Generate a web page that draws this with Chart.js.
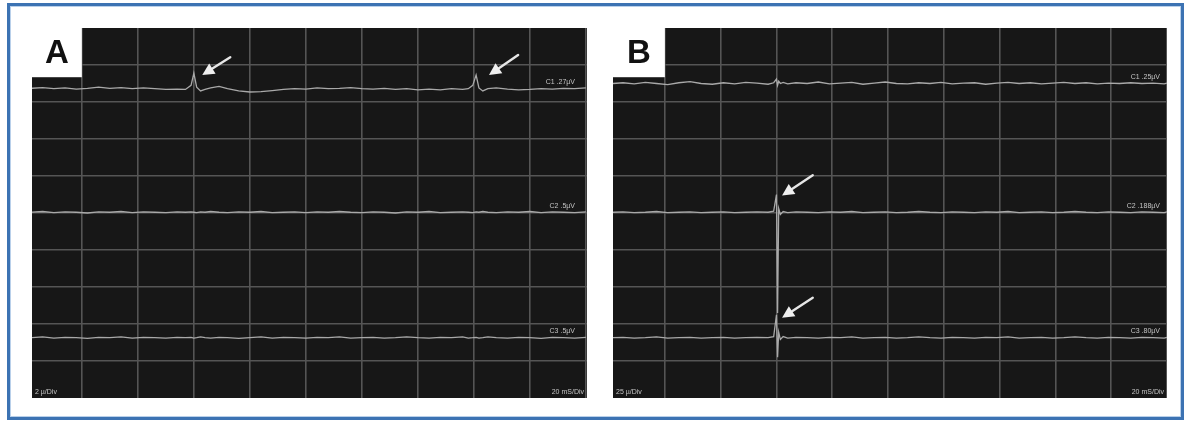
<!DOCTYPE html>
<html>
<head>
<meta charset="utf-8">
<script src="https://cdn.jsdelivr.net/npm/chart.js@4.4.1/dist/chart.umd.min.js"></script>
<style>
html, body { margin: 0; padding: 0; background: #fff; }
body { width: 1187px; height: 421px; position: relative; overflow: hidden; }
#frame {
    position: absolute; left: 7px; top: 3px; width: 1177px; height: 417px;
    box-sizing: border-box; border: 3px solid #3c73b3;
    box-shadow: inset 0 0 0 1px #b9d0ea;
}
canvas { position: absolute; top: 28px; }
#scopeA { left: 32px; }
#scopeB { left: 613px; }
</style>
</head>
<body>
<div id="frame"></div>
<canvas id="scopeA" width="555" height="370"></canvas>
<canvas id="scopeB" width="554" height="370"></canvas>
<script>
(function() {
    'use strict';

    // ── Data (x in time divisions, y in vertical divisions, 0 = bottom) ──
    var timeA = [-0.9, -0.7, -0.5, -0.3, -0.1, 0.1, 0.3, 0.5, 0.7, 0.9, 1.1, 1.3, 1.5, 1.7,
        1.85, 1.95, 2.0, 2.05, 2.12, 2.2, 2.3, 2.45, 2.6,
        2.8, 3.0, 3.2, 3.4, 3.6, 3.8, 4.0, 4.2, 4.4, 4.6, 4.8, 5.0, 5.2, 5.4, 5.6, 5.8, 6.0, 6.2, 6.4, 6.6, 6.8,
        6.9, 6.98, 7.04, 7.09, 7.16, 7.25, 7.4,
        7.6, 7.8, 8.0, 8.2, 8.4, 8.6, 8.8, 9.0];
    var traceA1 = [8.37, 8.39, 8.36, 8.38, 8.35, 8.37, 8.40, 8.37, 8.39, 8.36, 8.38, 8.36, 8.34, 8.35,
        8.34, 8.45, 8.78, 8.40, 8.30, 8.34, 8.38, 8.42, 8.36,
        8.30, 8.27, 8.28, 8.31, 8.34, 8.36, 8.35, 8.38, 8.36, 8.37, 8.39, 8.36, 8.35, 8.37, 8.34, 8.36, 8.33, 8.35, 8.33, 8.36, 8.34,
        8.36, 8.45, 8.73, 8.38, 8.30, 8.36, 8.38,
        8.35, 8.33, 8.34, 8.36, 8.35, 8.37, 8.36, 8.38];
    var traceA2 = [5.02, 5.04, 5.01, 5.03, 5.02, 5.00, 5.03, 5.02, 5.04, 5.01,
        5.03, 5.02, 5.01, 5.03, 5.02, 5.03, 5.02, 5.01, 5.03, 5.02,
        5.04, 5.02, 5.01, 5.03, 5.02, 5.04, 5.01, 5.02, 5.03, 5.01,
        5.03, 5.02, 5.04, 5.02, 5.01, 5.03, 5.02, 5.00, 5.03, 5.02,
        5.04, 5.01, 5.02, 5.03, 5.02, 5.01, 5.03, 5.02, 5.04, 5.02,
        5.01, 5.03, 5.02, 5.04, 5.01, 5.03, 5.02, 5.01, 5.03];
    var traceA3 = [1.63, 1.65, 1.62, 1.64, 1.63, 1.61, 1.64, 1.63, 1.65, 1.62,
        1.64, 1.63, 1.62, 1.64, 1.63, 1.64, 1.62, 1.63, 1.65, 1.63,
        1.62, 1.64, 1.63, 1.61, 1.63, 1.65, 1.62, 1.64, 1.63, 1.62,
        1.64, 1.63, 1.65, 1.62, 1.63, 1.64, 1.62, 1.63, 1.65, 1.63,
        1.62, 1.64, 1.63, 1.65, 1.62, 1.63, 1.64, 1.62, 1.63, 1.65,
        1.63, 1.62, 1.64, 1.63, 1.61, 1.64, 1.63, 1.62, 1.64];

    var timeB = [-0.93, -0.75, -0.55, -0.35, -0.15, 0.05, 0.25, 0.45, 0.65, 0.85, 1.05, 1.25, 1.45, 1.65, 1.85,
        1.95, 2.0, 2.02, 2.04, 2.07, 2.12, 2.2,
        2.35, 2.55, 2.75, 2.95, 3.15, 3.35, 3.55, 3.75, 3.95, 4.15, 4.35, 4.55, 4.75, 4.95, 5.15, 5.35,
        5.55, 5.75, 5.95, 6.15, 6.35, 6.55, 6.75, 6.95, 7.15, 7.35, 7.55, 7.75, 7.95, 8.15, 8.35, 8.55, 8.75, 8.95,
        9.0];
    var traceB1 = [8.50, 8.52, 8.49, 8.53, 8.50, 8.47, 8.52, 8.55, 8.50, 8.48,
        8.52, 8.49, 8.53, 8.51, 8.48,
        8.52, 8.62, 8.45, 8.56, 8.50, 8.53, 8.49,
        8.52, 8.50, 8.54, 8.49, 8.51, 8.53, 8.48, 8.51, 8.54, 8.50,
        8.49, 8.52, 8.50, 8.53, 8.49, 8.51, 8.52, 8.48, 8.51, 8.53,
        8.50, 8.52, 8.49, 8.51, 8.53, 8.50, 8.52, 8.49, 8.51, 8.50,
        8.52, 8.50, 8.51, 8.49, 8.51];
    var traceB2 = [5.02, 5.03, 5.01, 5.02, 5.04, 5.01, 5.02, 5.03, 5.01, 5.02,
        5.03, 5.01, 5.02, 5.03, 5.02,
        5.05, 5.50, 2.30, 5.12, 4.96, 5.04, 5.01,
        5.03, 5.02, 5.01, 5.03, 5.02, 5.04, 5.01, 5.02, 5.03, 5.01,
        5.02, 5.04, 5.02, 5.01, 5.03, 5.02, 5.01, 5.03, 5.02, 5.04,
        5.01, 5.02, 5.03, 5.01, 5.02, 5.04, 5.02, 5.01, 5.03, 5.02,
        5.01, 5.03, 5.02, 5.01, 5.03];
    var traceB3 = [1.63, 1.64, 1.62, 1.63, 1.65, 1.62, 1.63, 1.64, 1.62, 1.63,
        1.64, 1.62, 1.63, 1.64, 1.63,
        1.66, 2.25, 1.10, 1.78, 1.58, 1.66, 1.62,
        1.64, 1.63, 1.62, 1.64, 1.63, 1.65, 1.62, 1.63, 1.64, 1.62,
        1.63, 1.65, 1.63, 1.62, 1.64, 1.63, 1.62, 1.64, 1.63, 1.65,
        1.62, 1.63, 1.64, 1.62, 1.63, 1.65, 1.63, 1.62, 1.64, 1.63,
        1.62, 1.64, 1.63, 1.62, 1.64];

    var channelLabelsA = ['C1 .27µV', 'C2 .5µV', 'C3 .5µV'];
    var channelLabelsB = ['C1 .25µV', 'C2 .188µV', 'C3 .80µV'];
    var scaleLabelsA = ['2 µ/Div', '20 mS/Div'];
    var scaleLabelsB = ['25 µ/Div', '20 mS/Div'];

    // arrows: [headX, headY, tailX, tailY] in divisions
    var arrowsA = [[2.15, 8.73, 2.65, 9.21], [7.27, 8.73, 7.79, 9.27]];
    var arrowsB = [[2.10, 5.47, 2.65, 6.02], [2.10, 2.17, 2.65, 2.71]];

    var xGridTicks = [0, 1, 2, 3, 4, 5, 6, 7, 8, 9];
    var yGridTicks = [1, 2, 3, 4, 5, 6, 7, 8, 9];

    // ── Screen plugin: background, white label box, arrows, texts ────────
    var scopePlugin = {
        id: 'scope',
        beforeDraw: function(chart) {
            var a = chart.chartArea, ctx = chart.ctx;
            ctx.save();
            ctx.fillStyle = '#171717';
            ctx.fillRect(a.left, a.top, a.width, a.height);
            ctx.restore();
        },
        afterDraw: function(chart) {
            var o = chart.options.plugins.scope;
            var a = chart.chartArea, ctx = chart.ctx;
            var xs = chart.scales.x, ys = chart.scales.y;
            ctx.save();

            // arrows
            ctx.fillStyle = '#efefef';
            ctx.strokeStyle = '#e6e6e6';
            ctx.lineWidth = 2.4;
            ctx.lineCap = 'round';
            o.arrows.forEach(function(ar) {
                var hx = xs.getPixelForValue(ar[0]), hy = ys.getPixelForValue(ar[1]);
                var tx = xs.getPixelForValue(ar[2]), ty = ys.getPixelForValue(ar[3]);
                var ang = Math.atan2(hy - ty, hx - tx);
                var len = 12, half = 6;
                var bx = hx - Math.cos(ang) * len, by = hy - Math.sin(ang) * len;
                ctx.beginPath();
                ctx.moveTo(tx, ty);
                ctx.lineTo(bx, by);
                ctx.stroke();
                ctx.beginPath();
                ctx.moveTo(hx, hy);
                ctx.lineTo(bx + Math.sin(ang) * half, by - Math.cos(ang) * half);
                ctx.lineTo(bx - Math.sin(ang) * half, by + Math.cos(ang) * half);
                ctx.closePath();
                ctx.fill();
            });

            // channel labels next to each trace
            ctx.fillStyle = '#c4c4c4';
            ctx.font = '7px "Liberation Sans", Arial, sans-serif';
            ctx.textAlign = 'right';
            ctx.textBaseline = 'middle';
            chart.data.datasets.forEach(function(ds, i) {
                var last = ds.data[ds.data.length - 1].y;
                ctx.fillText(o.channels[i], a.right - o.labelInset, ys.getPixelForValue(last) - 6);
            });

            // bottom scale texts
            ctx.textBaseline = 'alphabetic';
            ctx.textAlign = 'left';
            ctx.fillText(o.scales[0], a.left + 3, a.bottom - 4);
            ctx.textAlign = 'right';
            ctx.fillText(o.scales[1], a.right - 3, a.bottom - 4);

            // white label box with panel letter
            var boxR = xs.getPixelForValue(0), boxB = ys.getPixelForValue(8.67);
            ctx.fillStyle = '#ffffff';
            ctx.fillRect(a.left - 1, a.top - 1, boxR - a.left + 1, boxB - a.top + 1);
            ctx.fillStyle = '#111111';
            ctx.font = 'bold 33px "Liberation Sans", Arial, sans-serif';
            ctx.textAlign = 'center';
            ctx.textBaseline = 'middle';
            ctx.fillText(o.letter, (a.left + boxR) / 2, (a.top + boxB) / 2 + 1);
            ctx.restore();
        }
    };

    function toPoints(time, values) {
        return time.map(function(t, i) { return { x: t, y: values[i] }; });
    }

    function makeScope(id, time, traces, xMin, xMax, cfg) {
        return new Chart(document.getElementById(id), {
            type: 'line',
            data: {
                datasets: traces.map(function(tr) {
                    return {
                        data: toPoints(time, tr),
                        borderColor: '#a9a9a9',
                        borderWidth: 1.3,
                        pointRadius: 0,
                        tension: 0
                    };
                })
            },
            options: {
                responsive: false,
                animation: false,
                layout: { padding: 0 },
                plugins: {
                    legend: { display: false },
                    tooltip: { enabled: false },
                    scope: cfg
                },
                scales: {
                    x: {
                        type: 'linear', min: xMin, max: xMax,
                        afterBuildTicks: function(s) { s.ticks = xGridTicks.map(function(v) { return { value: v }; }); },
                        ticks: { display: false },
                        grid: { color: '#555555', lineWidth: 1.6, drawTicks: false },
                        border: { display: false }
                    },
                    y: {
                        type: 'linear', min: 0, max: 10,
                        afterBuildTicks: function(s) { s.ticks = yGridTicks.map(function(v) { return { value: v }; }); },
                        ticks: { display: false },
                        grid: { color: '#555555', lineWidth: 1.6, drawTicks: false },
                        border: { display: false }
                    }
                }
            },
            plugins: [scopePlugin]
        });
    }

    makeScope('scopeA', timeA, [traceA1, traceA2, traceA3], -0.89, 9.02, {
        letter: 'A', arrows: arrowsA, channels: channelLabelsA, scales: scaleLabelsA, labelInset: 12
    });
    makeScope('scopeB', timeB, [traceB1, traceB2, traceB3], -0.93, 9.0, {
        letter: 'B', arrows: arrowsB, channels: channelLabelsB, scales: scaleLabelsB, labelInset: 7
    });
})();
</script>
</body>
</html>
